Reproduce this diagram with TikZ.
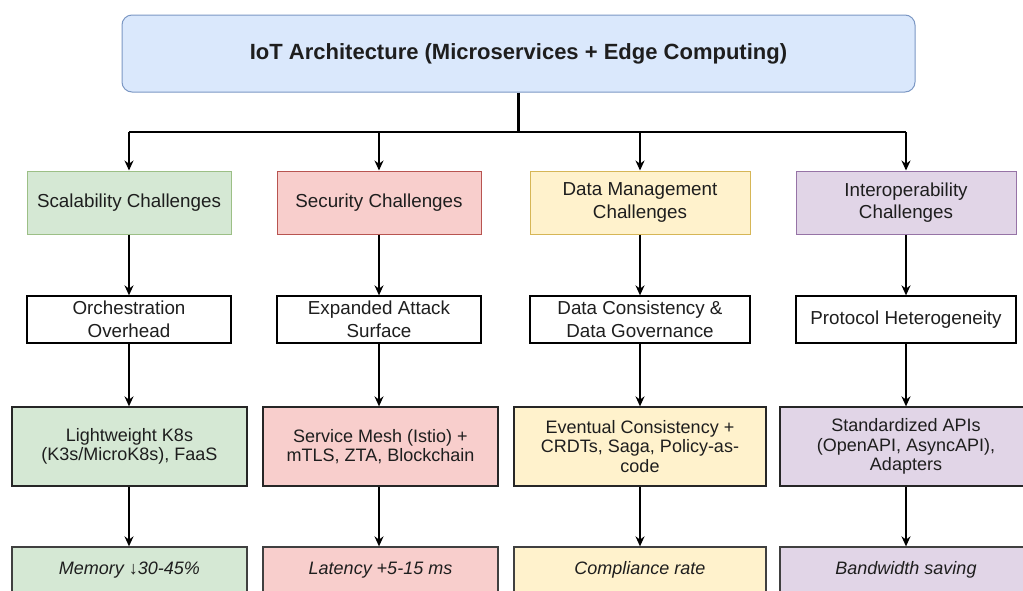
\documentclass[tikz,border=0pt]{standalone}
\usepackage{fontspec}
\setmainfont{Liberation Sans}
\usetikzlibrary{arrows.meta,calc}
\definecolor{blueF}{HTML}{DAE8FC}\definecolor{blueD}{HTML}{7C98C4}
\definecolor{greenF}{HTML}{D5E8D4}\definecolor{greenD}{HTML}{9CBF86}
\definecolor{redF}{HTML}{F8CECC}\definecolor{redD}{HTML}{B85450}
\definecolor{yelF}{HTML}{FFF2CC}\definecolor{yelD}{HTML}{D6B656}
\definecolor{purF}{HTML}{E1D5E7}\definecolor{purD}{HTML}{9673A6}
\definecolor{txt}{HTML}{1E1E1E}
\begin{document}
\begin{tikzpicture}[x=1pt,y=-1pt,
  base/.style={rectangle,inner sep=0pt,align=center,text=txt,font=\fontsize{18.8}{22.5}\selectfont},
  cat/.style={base,draw=#1D,fill=#1F,line width=1pt},
  prob/.style={base,draw=black,fill=white,line width=1.3pt},
  sol/.style={base,draw=black!85,fill=#1F,line width=1.3pt,font=\fontsize{18}{19.5}\selectfont},
  res/.style={base,draw=black!75,fill=#1F,line width=1.3pt,font=\fontsize{18}{20}\selectfont\itshape},
  arr/.style={-{Stealth[length=10pt,width=9pt]},line width=1.4pt},
  ln/.style={line width=1.4pt}]
\useasboundingbox (0,0) rectangle (1023,590);
\clip (0,0) rectangle (1023,590);
\fill[white] (0,0) rectangle (1023,590);

\node[base,draw=blueD,fill=blueF,line width=1pt,rounded corners=10pt,minimum width=793pt,minimum height=77pt,
  font=\fontsize{22}{26}\selectfont\bfseries] (title) at (518.5,53.5) {IoT Architecture (Microservices + Edge Computing)};

% row 1
\node[cat=green,minimum width=204pt,minimum height=63pt] (c1) at (129,202.5) {Scalability Challenges};
\node[cat=red,minimum width=204pt,minimum height=63pt] (c2) at (379,202.5) {Security Challenges};
\node[cat=yel,minimum width=220pt,minimum height=63pt] (c3) at (640,202.5) {Data Management\\Challenges};
\node[cat=pur,minimum width=220pt,minimum height=63pt] (c4) at (906,202.5) {Interoperability\\Challenges};

% row 2
\node[prob,minimum width=204pt,minimum height=47pt] (p1) at (129,319.5) {Orchestration\\Overhead};
\node[prob,minimum width=204pt,minimum height=47pt] (p2) at (379,319.5) {Expanded Attack\\Surface};
\node[prob,minimum width=220pt,minimum height=47pt] (p3) at (640,319.5) {Data Consistency \&\\Data Governance};
\node[prob,minimum width=220pt,minimum height=47pt] (p4) at (906,319.5) {Protocol Heterogeneity};

% row 3
\node[sol=green,minimum width=235pt,minimum height=79pt] (s1) at (129.5,446.5) {Lightweight K8s\\(K3s/MicroK8s), FaaS};
\node[sol=red,minimum width=235pt,minimum height=79pt] (s2) at (380.5,446.5) {Service Mesh (Istio) +\\mTLS, ZTA, Blockchain};
\node[sol=yel,minimum width=252pt,minimum height=79pt] (s3) at (640,446.5) {Eventual Consistency +\\CRDTs, Saga, Policy-as-\\code};
\node[sol=pur,minimum width=252pt,minimum height=79pt] (s4) at (906,446.5) {Standardized APIs\\(OpenAPI, AsyncAPI),\\Adapters};

% row 4
\node[res=green,minimum width=235pt,minimum height=46pt] (m1) at (129.5,570) {Memory ↓30-45\%};
\node[res=red,minimum width=235pt,minimum height=46pt] (m2) at (380.5,570) {Latency +5-15 ms};
\node[res=yel,minimum width=252pt,minimum height=46pt] (m3) at (640,570) {Compliance rate};
\node[res=pur,minimum width=252pt,minimum height=46pt] (m4) at (906,570) {Bandwidth saving};

% connectors
\coordinate (jm) at (518.5,132);
\coordinate (j1) at (129,132);
\coordinate (j2) at (379,132);
\coordinate (j3) at (640,132);
\coordinate (j4) at (906,132);
\draw[ln,line width=2.2pt] (title.south) -- (jm);
\draw[ln] (j1) -- (j4);
\foreach \i in {1,2,3,4}{
  \draw[arr] (j\i) -- (j\i |- c\i.north);
  \draw[arr] (c\i.south) -- (c\i.south |- p\i.north);
  \draw[arr] (p\i.south) -- (p\i.south |- s\i.north);
  \draw[arr] (p\i.south |- s\i.south) -- (p\i.south |- m\i.north);
}
\end{tikzpicture}
\end{document}
